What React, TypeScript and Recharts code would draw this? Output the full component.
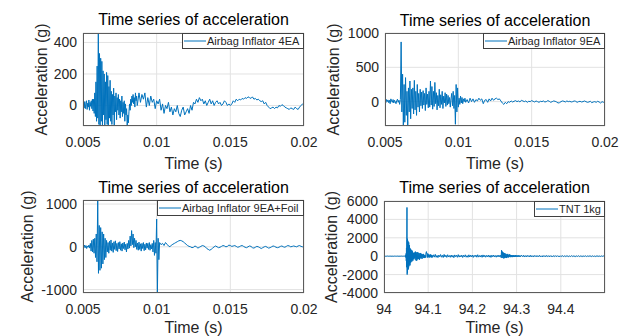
import React from "react";
import { LineChart, Line, XAxis, YAxis, CartesianGrid } from "recharts";

const BLUE = "#0072BD";
const FONT = "'Liberation Sans', Arial, Helvetica, sans-serif";

// each trace is stored as sampled segments: start time, sample step, values (g)
const inflator4eaBurst = [
  0, 20, -15, 25, -20, 10, 30, -25, 15, -10, 35, -30, 20, -5, 30, -20, 40, -35,
  40, -50, 80, -70, 150,
  -100, 250, -80, 460, -120, 330,
  -140, 300, -100, 280, -130, 220, -60, 200, -140, 150,
  -90, 210, -120, 190, -140, 120, -80, 160, -100, 90,
  -120, 70, -60, 110, -140, 60, -40, 80, -90, 50, -30, 70, -60, 40, -80,
  30, -40, 60, -70, 20, -50, 30, -100, 10, -60,
  -20, -140, -60, -110, -40,
  10, -30, 40, 0, 60, 20, 70, 10, 50, -10, 80, 30, 60, 0,
];
const inflator4eaTail = [
  10, 80, 20, 70, 40, 80, -10, 50, 0, 60, 20, 40, -20,
  30, 10, 40, -30, 10, -50, 0, -20, 20, -40, -10,
  -60, -20, -40, 0, -50, -70, -30, -10, -60, -40, -20, -50,
  0, -30, 20, 10, 40, 20, 50, 30,
  40, 10, 30, 0, 20, 40, 10, 30, 0, 20,
  30, 10, 20, 0, 10, 30, 20, 0, 10, 0,
  10, 30, 20, 40, 30, 40, 35, 45, 40, 50,
  45, 55, 50, 45, 55, 40, 45, 35, 40, 30,
  25, 30, 10, 20, 0, -10, -20, -15, -10, -20,
  -10, -15, 0, -5, 5, 0, -10, -15, -20, -25,
  -15, -20, -25, -10, -20, -25, -10, 0, 10, 15,
];

const inflator9eaBurst = [
  10, -20, 30, 0, 25, -15, 20, -30, 40, 10, -10, 30, -20, 20, 0, -30, 15, 35, -10, 20, -40, 30,
  870, -150,
  400, -355, 250, -300, 350, -200, 150, -350, 200, -150, 300, -250, 180, -100,
  200, -180, 310, -120, 150, -200, 250, -80, 120, -150, 180, -60, 140, -100, 160, -50, 120, -130, 200, -40, 110, -90, 150,
  -80, 300, -50, 220, -110, 150, -70, 280, -30, 130, -120, 90, -60,
  180, -90, 100, -40, 150, -100, 80, -20, 130, -70, 110, -50, 90, -30, 60, -80, 40,
  120, -60, 150, -100, 90, -330, 250, -150, 200, -80, 50, -40, 80, -20, 60, -30, 40, 0, 50, -10,
];
const inflator9eaTail = [
  30, -20, 50, 0, 40, -10, 30, 10, 50, 20,
  40, -30, 20, 30, -10, 40, 10, 50, 20, 40,
  50, 30, 40, 10, -20, -40, -10, -30, 0, -10,
  10, -5, 5, 15, 0, 10, -5, 20, 10, 0,
  10, -10, 5, 0, 15, 5, -5, 10, 0, -10,
  5, 0, 10, -5, 0, 15, 5, -10, 0, 10,
  5, -5, -20, -15, 0, 10, 5, -5, 10, 0,
  5, -5, 0, 10, 5, -10, 0, 5, -5, 0,
  10, 0, -10, -5, 5, -15, -5, 0, -10, 5,
  -5, -20, 0, -10, -15,
];

const foilBurst = [
  10, -30, 40, -20, 30, -40, 20, -10, 40, -30,
  80, -100, 150, -120, 180, -150, 200, -250, 300, -350,
  1095, -620, 500, -550,
  450, -500, 350, -400, 300, -300, 200, -250,
  150, -120, 100, -150, 130, -80, 160, -100, 90, -130, 120, -60, 140, -90, 80, -110, 100, -50, 120, -80,
  70, -100, 90, -40, 110, -70, 60, -120, 80, -50,
  150, -30, 250, 20, 380, 50, 300, -20, 200, 0, 150, -60,
  90, -80, 110, -60, 70, -100, 80, -40, 100, -90, 60, -70, 90, -30, 80, -60, 100, -80, 50, -50,
  80, -120, 150, -200, 100, -150,
  650, -1080, 200, -300, 100,
];
const foilTail = [
  50, 80, 30, 100, 60, 20, 0, 40, 60, 80,
  100, 120, 140, 150, 140, 120, 90, 60, 30, 10,
  0, -20, -10, 20, 0, -30, -10, 10, 30, 20,
  0, -40, -60, -80, -60, -30, 0, 20, 0, -20,
  -10, 10, 30, 20, 0, 10, 40, 30, 10, 20,
  30, 10, -10, 0, 20, 30, 10, -10, -20, 0,
  20, 10, -20, -30, -10, 10, 0, -20, -40, -20,
  0, 10, -10, -30, -20, 0, 20, 10, -10, -20,
  -10, 10, 20, 0, -10, 10, 30, 20, 0, 10,
  20, 10, 0, 20, 30, 10, 0, -10,
];

const tntQuiet = [0, 10, -10, 0, 15, -5, 0, 10, -10, 5, 0, -10, 10, 0, -5, 10, 0, -10, 5, 0, 10, -5, 0, 10];
const tntBlast = [
  0, 30, -60, 100, -150, 300, -500, 900, -1200, 1800,
  5300, -2000,
  1900, -1800, 1700, -1500, 1600, -1400, 1200, -1300, 1500, -1100,
  1000, -900, 1200, -800, 900, -1000, 700, -600, 800, -700, 600, -500, 700, -400,
  500, -600, 400, -300, 600, -400, 300, -500, 400, -200, 350, -300, 250, -350, 300, -200, 400, -150, 250, -250,
];
const tntDecay = [
  500, -450, 400, -500, 450, -350, 400, -300, 350, -400,
  300, -250, 350, -200, 250, -300, 200, -150, 250, -200,
  150, -200, 100, -150, 350, 500, 200, -150, 300, -100,
  200, -150, 150, -120, 200, -100, 150, -150, 100, -120,
];
const tntMid = [
  150, -100, 200, -120, 80, -150, 120, -60, 180, -110,
  100, -140, 190, -80, 110, -130, 160, -90, 70, -120,
  130, -100, 90, -160, 140, -50, 110, -120, 170, -100,
  80, -80, 120, -140, 100, -60, 150, -110, 60, -120,
  150, -90, 110, -80, 130, -130, 90, -50, 120, -110,
  160, -100, 70, -90, 110, -120, 140, -80, 100, -110,
  80, -70, 120, -100, 90, -130, 110, -60, 130, -90,
  70, -110, 100, -80, 120, -70,
];
const tntReflection = [
  0, 100, -150, 650, -200, 500, -180, 400, -250, 350, -200, 300, -150, 250, -200, 200,
  -120, 250, -150, 150, -100, 200, -90, 150, -110, 120, -80, 100, -100, 130, -70, 100,
  -90, 90, -70, 120, -60, 80, -80, 70, -60, 90, -50, 70, -60, 60, -50, 60,
];
const tntEnd = [
  80, -60, 100, -90, 60, -70, 90, -50, 70, -80,
  100, -60, 50, -90, 80, -40, 70, -70, 60, -50,
  90, -60, 40, -80, 70, -50, 60, -60, 80, -40,
  50, -70, 60, -50, 40, -60, 70, -40, 50, -50,
  60, -40, 30, -60, 50, -30, 60, -50, 40, -40,
  50, -30, 40, -50, 30, -40, 60, -30, 40, -40,
  30, -50, 40, -30, 50, -40, 30, -30, 40, -50,
  30, -20, 40, -40, 30, -30, 50, -20, 30, -40,
  40, -30, 20, -40, 30, -20, 40, -30, 20, -30,
  30, -20, 40, -30, 20,
];

const shortTicks = [0.005, 0.01, 0.015, 0.02];
const tntTicks = [94, 94.1, 94.2, 94.3, 94.4];

type Seg = [number, number, number[]];

function build(segs: Seg[]) {
  const out: { t: number; v: number }[] = [];
  segs.forEach(([t0, dt, vals]) => {
    vals.forEach((v, i) => out.push({ t: t0 + i * dt, v }));
  });
  return out.sort((a, b) => a.t - b.t);
}

const panels = [
  {
    name: "Airbag Inflator 4EA",
    data: build([[0.005, 0.00004, inflator4eaBurst], [0.0087, 0.0001, inflator4eaTail]]),
    xDomain: [0.005, 0.02], xTicks: shortTicks,
    yDomain: [-130, 460], yTicks: [0, 200, 400],
    plot: { x: 83, y: 33, w: 221, h: 93 },
    legend: { x: 182, w: 122 }, titleY: 25, xLabelY: 169, yLabelX: 46.7,
  },
  {
    name: "Airbag Inflator 9EA",
    data: build([[0.005, 0.00005, inflator9eaBurst], [0.0106, 0.0001, inflator9eaTail]]),
    xDomain: [0.005, 0.02], xTicks: shortTicks,
    yDomain: [-355, 1000], yTicks: [0, 500, 1000],
    plot: { x: 385, y: 33, w: 220, h: 93 },
    legend: { x: 483, w: 122 }, titleY: 26, xLabelY: 169, yLabelX: 339,
  },
  {
    name: "Airbag Inflator 9EA+Foil",
    data: build([[0.005, 0.00005, foilBurst], [0.0103, 0.0001, foilTail]]),
    xDomain: [0.005, 0.02], xTicks: shortTicks,
    yDomain: [-1080, 1095], yTicks: [-1000, 0, 1000],
    plot: { x: 83, y: 200, w: 221, h: 93 },
    legend: { x: 157, w: 147 }, titleY: 193, xLabelY: 333, yLabelX: 33.4,
  },
  {
    name: "TNT 1kg",
    data: build([
      [94.0, 0.002, tntQuiet],
      [94.048, 0.0004, tntBlast],
      [94.071, 0.001, tntDecay],
      [94.112, 0.002, tntMid],
      [94.263, 0.001, tntReflection],
      [94.312, 0.002, tntEnd],
    ]),
    xDomain: [94, 94.5], xTicks: tntTicks,
    yDomain: [-4000, 6000], yTicks: [-4000, -2000, 0, 2000, 4000, 6000],
    plot: { x: 384, y: 201, w: 221, h: 92 },
    legend: { x: 534, w: 71 }, titleY: 193, xLabelY: 333, yLabelX: 337.4,
  },
];

const tickStyle = { fill: "#262626", fontSize: 14, fontFamily: FONT };

function Panel({ p }: { p: (typeof panels)[number] }) {
  const yw = 60;
  const pad = 12;
  return (
    <div style={{ position: "absolute", left: p.plot.x - yw, top: p.plot.y - pad }}>
      <LineChart
        width={p.plot.w + yw + 22}
        height={p.plot.h + pad + 30}
        data={p.data}
        margin={{ top: pad, right: 22, left: 0, bottom: 0 }}
      >
        <CartesianGrid stroke="#e2e2e2" strokeWidth={1} />
        <XAxis
          type="number"
          dataKey="t"
          domain={p.xDomain}
          ticks={p.xTicks}
          allowDataOverflow
          height={30}
          axisLine={false}
          tickLine={false}
          tickSize={0}
          tickMargin={11}
          tick={tickStyle}
          tickFormatter={(v) => String(v)}
          interval={0}
        />
        <YAxis
          type="number"
          domain={p.yDomain}
          ticks={p.yTicks}
          allowDataOverflow
          width={yw}
          axisLine={false}
          tickLine={false}
          tickSize={0}
          tickMargin={6}
          tick={tickStyle}
          interval={0}
        />
        <Line
          type="linear"
          dataKey="v"
          stroke={BLUE}
          strokeWidth={1}
          dot={false}
          isAnimationActive={false}
        />
      </LineChart>
    </div>
  );
}

export default function App() {
  return (
    <div style={{ position: "absolute", left: 0, top: 0, width: 628, height: 336, background: "#fff", overflow: "hidden" }}>
      {panels.map((p) => (
        <Panel key={p.name} p={p} />
      ))}
      <svg width={628} height={336} style={{ position: "absolute", left: 0, top: 0, pointerEvents: "none" }}>
        {panels.map((p) => {
          const cx = p.plot.x + p.plot.w / 2;
          const cy = p.plot.y + p.plot.h / 2;
          const lx = p.legend.x;
          const ly = p.plot.y;
          return (
            <g key={p.name} fontFamily={FONT}>
              <rect x={p.plot.x + 0.5} y={p.plot.y + 0.5} width={p.plot.w - 1} height={p.plot.h - 1} fill="none" stroke="#5c5c5c" />
              <text x={cx} y={p.titleY} textAnchor="middle" fontSize={16} fill="#000">Time series of acceleration</text>
              <text x={cx} y={p.xLabelY} textAnchor="middle" fontSize={16} fill="#262626">Time (s)</text>
              <text transform={`translate(${p.yLabelX},${cy}) rotate(-90)`} textAnchor="middle" fontSize={16} fill="#262626">Acceleration (g)</text>
              <rect x={lx + 0.5} y={ly + 0.5} width={p.legend.w - 1} height={15} fill="#fff" stroke="#404040" />
              <line x1={lx + 2} x2={lx + 24} y1={ly + 8} y2={ly + 8} stroke={BLUE} strokeWidth={1} />
              <text x={lx + 25} y={ly + 12} fontSize={11} fill="#262626">{p.name}</text>
            </g>
          );
        })}
      </svg>
    </div>
  );
}
